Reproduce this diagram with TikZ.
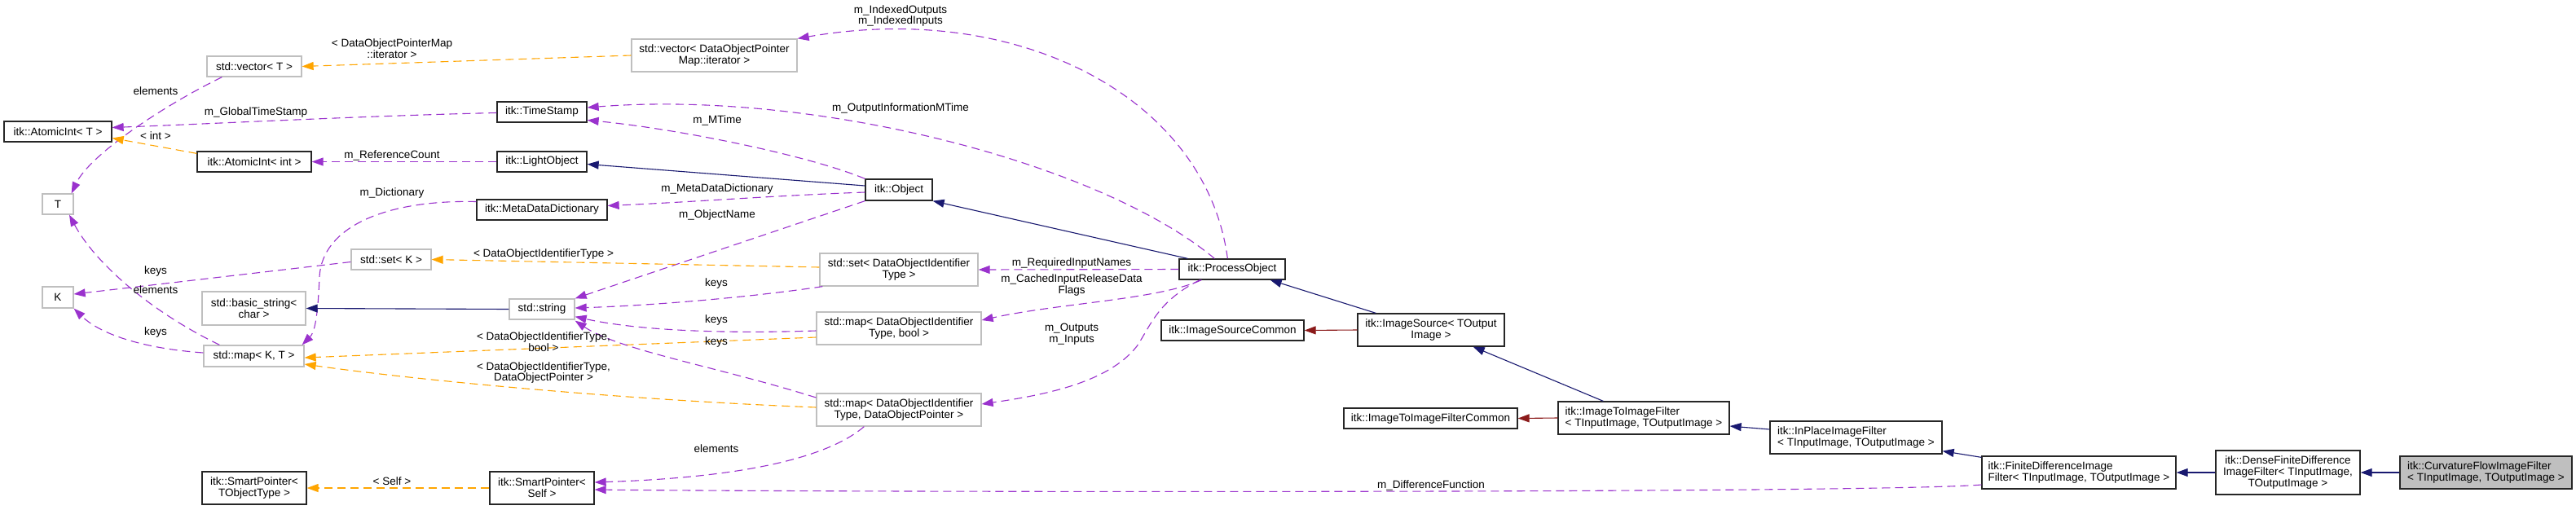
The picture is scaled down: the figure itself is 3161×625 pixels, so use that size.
\documentclass[tikz,border=0pt]{standalone}
\usepackage{fontspec}
\setmainfont{Liberation Sans}
\usetikzlibrary{arrows.meta,calc}
\definecolor{purp}{RGB}{154,50,205}
\definecolor{orng}{RGB}{255,165,0}
\definecolor{mblue}{RGB}{25,25,112}
\definecolor{fbrick}{RGB}{139,26,26}
\definecolor{gborder}{RGB}{191,191,191}
\definecolor{gfill}{RGB}{191,191,191}
\newcommand\bx[7]{\node[#2,minimum width={(#5-#3)*1pt},minimum height={(#6-#4)*1pt}] (#1) at ({(#3+#5)/2},{(#4+#6)/2}) {#7};}
\begin{document}
\begin{tikzpicture}[x=1pt,y=-1pt,
  font=\fontsize{13.5}{13.8}\selectfont,
  box/.style={draw=black!85,line width=1.3pt,inner sep=0pt,fill=white,align=center},
  gbox/.style={draw=gborder,line width=1.3pt,inner sep=0pt,fill=white,align=center},
  lbl/.style={inner sep=0pt,align=center},
  conn/.style={-{Triangle[length=14pt,width=10pt]},line width=1.1pt},
  use/.style={conn,color=purp,dash pattern=on 10pt off 6pt},
  tmpl/.style={conn,color=orng,dash pattern=on 10pt off 6pt},
  inh/.style={conn,color=mblue},
  priv/.style={conn,color=fbrick}]
\fill[white] (0,0) rectangle (3161,625);
\useasboundingbox (0,0) rectangle (3161,625);
% nodes
\bx{vecT}{gbox}{254}{69}{370}{94}{std::vector< T >}
\bx{atomT}{box}{5}{149}{137}{174}{itk::AtomicInt< T >}
\bx{ts}{box}{610}{125}{720}{150}{itk::TimeStamp}
\bx{atomI}{box}{242}{186}{382}{211}{itk::AtomicInt< int >}
\bx{lo}{box}{610}{186}{720}{211}{itk::LightObject}
\bx{T}{gbox}{52}{238}{90}{263}{T}
\bx{mdd}{box}{585}{245}{745}{270}{itk::MetaDataDictionary}
\bx{vecD}{gbox}{775}{48}{978}{88}{std::vector< DataObjectPointer\\Map::iterator >}
\bx{obj}{box}{1062}{220}{1144}{246}{itk::Object}
\bx{po}{box}{1447}{318}{1577}{343}{itk::ProcessObject}
\bx{setD}{gbox}{1006}{311}{1200}{351}{std::set< DataObjectIdentifier\\Type >}
\bx{mapB}{gbox}{1002}{383}{1204}{423}{std::map< DataObjectIdentifier\\Type, bool >}
\bx{mapP}{gbox}{1002}{483}{1204}{523}{std::map< DataObjectIdentifier\\Type, DataObjectPointer >}
\bx{isc}{box}{1425}{393}{1600}{418}{itk::ImageSourceCommon}
\bx{is}{box}{1666}{385}{1846}{425}{itk::ImageSource< TOutput\\Image >}
\bx{itifc}{box}{1649}{501}{1862}{526}{itk::ImageToImageFilterCommon}
\bx{itif}{box,align=left}{1912}{493}{2122}{533}{itk::ImageToImageFilter\\< TInputImage, TOutputImage >}
\bx{ip}{box,align=left}{2172}{517}{2383}{557}{itk::InPlaceImageFilter\\< TInputImage, TOutputImage >}
\bx{fd}{box,align=left}{2432}{560}{2670}{600}{itk::FiniteDifferenceImage\\Filter< TInputImage, TOutputImage >}
\bx{dense}{box}{2719}{553}{2896}{607}{itk::DenseFiniteDifference\\ImageFilter< TInputImage,\\TOutputImage >}
\bx{cf}{box,fill=gfill,align=left}{2945}{560}{3156}{600}{itk::CurvatureFlowImageFilter\\< TInputImage, TOutputImage >}
\bx{setK}{gbox}{431}{306}{529}{331}{std::set< K >}
\bx{K}{gbox}{52}{352}{90}{378}{K}
\bx{bs}{gbox}{248}{358}{375}{399}{std::basic\_string<\\char >}
\bx{str}{gbox}{625}{367}{705}{392}{std::string}
\bx{mapKT}{gbox}{250}{424}{373}{450}{std::map< K, T >}
\bx{spT}{box}{248}{579}{376}{619}{itk::SmartPointer<\\TObjectType >}
\bx{spS}{box}{601}{579}{729}{619}{itk::SmartPointer<\\Self >}
% edges
\draw[tmpl] (vecD.west) -- (vecT.east);
\draw[use] ($(vecT.south west)+(19,0)$) .. controls (200,130) and (110,190) .. ($(T.north east)+(-3,0)$);
\draw[use] ($(ts.west)+(0,1)$) .. controls (450,142) and (260,152) .. ($(atomT.east)+(0,-5)$);
\draw[tmpl] ($(atomI.north west)+(0,3)$) -- ($(atomT.east)+(0,8)$);
\draw[use] (lo.west) -- (atomI.east);
\draw[inh] ($(obj.west)+(0,-5)$) -- ($(lo.east)+(0,3)$);
\draw[use] (obj.north west) .. controls (990,190) and (830,158) .. ($(ts.east)+(0,10)$);
\draw[use] ($(po.north west)+(44,0)$) .. controls (1350,200) and (1000,110) .. ($(ts.east)+(0,-5.5)$);
\draw[use] ($(po.north west)+(60,0)$) .. controls (1480,120) and (1250,0) .. (vecD.north east);
\draw[use] ($(obj.west)+(0,3)$) .. controls (950,240) and (850,248) .. ($(mdd.east)+(0,-5)$);
\draw[use] (obj.south west) -- (str.north east);
\draw[use] ($(mdd.west)+(0,-10)$) .. controls (470,245) and (395,280) .. (392,340) .. controls (390,390) and (386,408) .. ($(mapKT.north east)+(-3,0)$);
\draw[inh] ($(po.north west)+(11,0)$) -- (obj.south east);
\draw[use] (po.west) -- (setD.east);
\draw[use] ($(po.south west)+(28,0)$) .. controls (1420,368) and (1300,372) .. ($(mapB.east)+(0,-10)$);
\draw[use] ($(po.south west)+(26,0)$) .. controls (1420,370) and (1412,400) .. (1395,425) .. controls (1360,470) and (1280,485) .. ($(mapP.east)+(0,-7)$);
\draw[tmpl] ($(setD.west)+(0,-3)$) -- (setK.east);
\draw[use] ($(setD.south west)+(4,0)$) .. controls (920,365) and (800,375) .. ($(str.east)+(0,-1.5)$);
\draw[use] ($(mapB.west)+(0,3)$) .. controls (880,410) and (780,405) .. ($(str.south east)+(0,-4)$);
\draw[tmpl] ($(mapB.west)+(0,11)$) -- ($(mapKT.east)+(0,2)$);
\draw[use] ($(mapP.west)+(0,-15)$) .. controls (880,450) and (760,430) .. ($(str.south east)+(0,1)$);
\draw[tmpl] ($(mapP.west)+(0,-3)$) .. controls (750,490) and (500,465) .. ($(mapKT.east)+(0,10)$);
\draw[use] ($(mapP.south west)+(59,0)$) .. controls (1000,575) and (850,588) .. ($(spS.east)+(0,-7)$);
\draw[use] ($(setK.west)+(0,3)$) -- ($(K.east)+(0,-4)$);
\draw[use] ($(mapKT.west)+(0,-4)$) .. controls (180,428) and (125,412) .. (K.south east);
\draw[use] ($(mapKT.north west)+(20,0)$) .. controls (180,380) and (115,320) .. ($(T.south)+(14,0)$);
\draw[inh] (str.west) -- (bs.east);
\draw[tmpl] (spS.west) -- (spT.east);
\draw[use] ($(fd.west)+(0,15)$) .. controls (2300,606) and (1000,604) .. ($(spS.east)+(0,2)$);
\draw[inh] ($(is.north west)+(23,0)$) -- ($(po.south east)+(-19,0)$);
\draw[priv] (is.west) -- (isc.east);
\draw[inh] ($(itif.north west)+(56,0)$) -- ($(is.south east)+(-39,0)$);
\draw[priv] (itif.west) -- (itifc.east);
\draw[inh] ($(ip.west)+(0,-10)$) -- ($(itif.east)+(0,10)$);
\draw[inh] ($(fd.north west)+(0,2)$) -- ($(ip.south east)+(0,-4)$);
\draw[inh] (dense.west) -- (fd.east);
\draw[inh] (cf.west) -- (dense.east);
% labels
\node[lbl] (l1) at (481,59.5) {< DataObjectPointerMap\\::iterator >};
\node[lbl] (l2) at (191,112) {elements};
\node[lbl] (l3) at (314,138) {m\_GlobalTimeStamp};
\node[lbl] (l4) at (191,167) {< int >};
\node[lbl] (l5) at (481,191) {m\_ReferenceCount};
\node[lbl] (l6) at (481,237) {m\_Dictionary};
\node[lbl] (l7) at (667,312) {< DataObjectIdentifierType >};
\node[lbl] (l8) at (191,333) {keys};
\node[lbl] (l9) at (191,356) {elements};
\node[lbl] (l10) at (191,408) {keys};
\node[lbl] (l11) at (667,419.5) {< DataObjectIdentifierType,\\bool >};
\node[lbl] (l12) at (667,457.5) {< DataObjectIdentifierType,\\DataObjectPointer >};
\node[lbl] (l13) at (481,591) {< Self >};
\node[lbl] (l14) at (1105,19.5) {m\_IndexedOutputs\\m\_IndexedInputs};
\node[lbl] (l15) at (1105,133) {m\_OutputInformationMTime};
\node[lbl] (l16) at (880,148) {m\_MTime};
\node[lbl] (l17) at (880,232) {m\_MetaDataDictionary};
\node[lbl] (l18) at (880,264) {m\_ObjectName};
\node[lbl] (l19) at (1315,323) {m\_RequiredInputNames};
\node[lbl] (l20) at (1315,350) {m\_CachedInputReleaseData\\Flags};
\node[lbl] (l21) at (1315,410) {m\_Outputs\\m\_Inputs};
\node[lbl] (l22) at (879,348) {keys};
\node[lbl] (l23) at (879,393) {keys};
\node[lbl] (l24) at (879,420) {keys};
\node[lbl] (l25) at (879,551) {elements};
\node[lbl] (l26) at (1756,596) {m\_DifferenceFunction};
\end{tikzpicture}
\end{document}
